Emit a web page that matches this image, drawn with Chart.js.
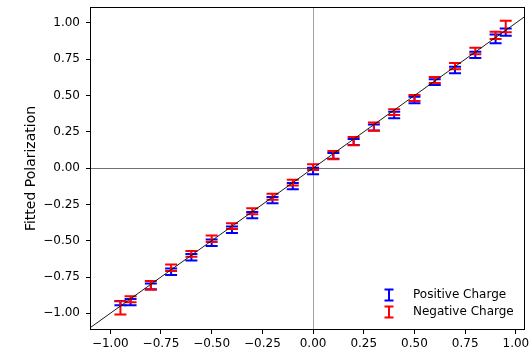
<!DOCTYPE html>
<html>
<head>
<meta charset="utf-8">
<script src="https://cdn.jsdelivr.net/npm/chart.js@4/dist/chart.umd.min.js"></script>
<style>
  body { margin: 0; background: #fff; }
  canvas { display: block; }
</style>
</head>
<body>
<canvas id="polChart" width="529" height="353"></canvas>
<script>
// True polarization values
const trueP = [-0.95, -0.9, -0.8, -0.7, -0.6, -0.5, -0.4, -0.3, -0.2, -0.1, 0, 0.1, 0.2, 0.3, 0.4, 0.5, 0.6, 0.7, 0.8, 0.9, 0.95];

// Fitted values and uncertainties, positive charge
const posFit = [-0.93, -0.923, -0.815, -0.714, -0.614, -0.514, -0.424, -0.324, -0.22, -0.124, -0.02, 0.085, 0.18, 0.28, 0.366, 0.469, 0.593, 0.676, 0.78, 0.89, 0.937];
const posErr = [0.015, 0.022, 0.02, 0.022, 0.022, 0.022, 0.022, 0.022, 0.022, 0.022, 0.022, 0.02, 0.02, 0.02, 0.022, 0.022, 0.02, 0.022, 0.022, 0.03, 0.025];

// Fitted values and uncertainties, negative charge
const negFit = [-0.963, -0.903, -0.807, -0.686, -0.59, -0.486, -0.40, -0.297, -0.197, -0.1, 0.007, 0.09, 0.186, 0.286, 0.386, 0.483, 0.607, 0.703, 0.807, 0.914, 0.976];
const negErr = [0.046, 0.02, 0.03, 0.022, 0.02, 0.022, 0.02, 0.02, 0.02, 0.02, 0.02, 0.028, 0.028, 0.028, 0.02, 0.02, 0.02, 0.022, 0.022, 0.025, 0.04];

const seriesNames = ['Positive Charge', 'Negative Charge'];
const seriesColors = ['#0000ff', '#ff0000'];

const xTicks = [-1, -0.75, -0.5, -0.25, 0, 0.25, 0.5, 0.75, 1];
const yTicks = [-1, -0.75, -0.5, -0.25, 0, 0.25, 0.5, 0.75, 1];
const xRange = [-1.1, 1.045];
const yRange = [-1.115, 1.11];
const diagX = [-1.1, 1.1];

const FONT = "'DejaVu Sans', sans-serif";
const CAP = 6;

function fmt(v) {
  return v.toFixed(2).replace('-', '\u2212');
}

function errPoints(fit, err) {
  return trueP.map((x, i) => ({ x: x, y: fit[i], lo: fit[i] - err[i], hi: fit[i] + err[i] }));
}

// draws one error bar (vertical stroke + caps) in pixel space
function drawBar(ctx, px, pLo, pHi, cap) {
  ctx.beginPath();
  ctx.moveTo(px, pLo); ctx.lineTo(px, pHi);
  ctx.moveTo(px - cap, pLo); ctx.lineTo(px + cap, pLo);
  ctx.moveTo(px - cap, pHi); ctx.lineTo(px + cap, pHi);
  ctx.stroke();
}

const errorBarPlugin = {
  id: 'errorBars',
  beforeDatasetsDraw(chart) {
    const { ctx, chartArea: a, scales: { x, y } } = chart;
    ctx.save();
    ctx.beginPath();
    ctx.rect(a.left, a.top, a.right - a.left, a.bottom - a.top);
    ctx.clip();

    // zero reference lines
    ctx.lineWidth = 1;
    ctx.strokeStyle = '#a0a0a0';
    const x0 = Math.round(x.getPixelForValue(0)) + 0.5;
    ctx.beginPath(); ctx.moveTo(x0, a.top); ctx.lineTo(x0, a.bottom); ctx.stroke();
    ctx.strokeStyle = '#707070';
    const y0 = Math.round(y.getPixelForValue(0)) + 0.5;
    ctx.beginPath(); ctx.moveTo(a.left, y0); ctx.lineTo(a.right, y0); ctx.stroke();

    // error bars
    ctx.lineWidth = 2;
    chart.data.datasets.forEach(ds => {
      if (!ds.errorBars) return;
      ctx.strokeStyle = ds.borderColor;
      ds.data.forEach(p => {
        drawBar(ctx, x.getPixelForValue(p.x), y.getPixelForValue(p.lo), y.getPixelForValue(p.hi), CAP);
      });
    });
    ctx.restore();
  },
  afterDraw(chart) {
    const { ctx, chartArea: a } = chart;
    ctx.save();
    // axes frame
    ctx.strokeStyle = '#000';
    ctx.lineWidth = 1;
    ctx.strokeRect(a.left + 0.5, a.top + 0.5, a.right - a.left - 1, a.bottom - a.top - 1);

    // legend, lower right
    ctx.font = '12px ' + FONT;
    ctx.textBaseline = 'middle';
    ctx.textAlign = 'left';
    ctx.lineWidth = 2;
    seriesNames.forEach((name, i) => {
      const cy = a.bottom - 35 + i * 17;
      ctx.strokeStyle = seriesColors[i];
      drawBar(ctx, 389, cy + 5.5, cy - 5.5, 4.5);
      ctx.fillStyle = '#000';
      ctx.fillText(name, 413, cy);
    });
    ctx.restore();
  }
};

const axisCommon = {
  type: 'linear',
  grid: { display: true, drawOnChartArea: false, drawTicks: true, tickLength: 4, color: '#000', lineWidth: 1 },
  border: { display: false },
  ticks: { color: '#000', font: { family: FONT, size: 12 }, callback: v => fmt(v) }
};

new Chart(document.getElementById('polChart'), {
  type: 'scatter',
  data: {
    datasets: [
      {
        label: 'y = x',
        type: 'line',
        data: diagX.map(v => ({ x: v, y: v })),
        borderColor: '#000',
        borderWidth: 0.9,
        pointRadius: 0,
        fill: false
      },
      {
        label: seriesNames[0],
        data: errPoints(posFit, posErr),
        borderColor: seriesColors[0],
        pointRadius: 0,
        errorBars: true
      },
      {
        label: seriesNames[1],
        data: errPoints(negFit, negErr),
        borderColor: seriesColors[1],
        pointRadius: 0,
        errorBars: true
      }
    ]
  },
  options: {
    responsive: false,
    animation: false,
    devicePixelRatio: 1,
    layout: { padding: { left: 0, right: 4, top: 7, bottom: 0 } },
    plugins: { legend: { display: false }, tooltip: { enabled: false } },
    scales: {
      x: Object.assign({}, axisCommon, {
        min: xRange[0], max: xRange[1],
        ticks: Object.assign({}, axisCommon.ticks, { padding: 3, maxRotation: 0 }),
        afterBuildTicks: s => { s.ticks = xTicks.map(v => ({ value: v })); },
        afterFit: s => { s.height = 23; s.paddingLeft = 0; s.paddingRight = 0; }
      }),
      y: Object.assign({}, axisCommon, {
        min: yRange[0], max: yRange[1],
        ticks: Object.assign({}, axisCommon.ticks, { padding: 6 }),
        title: { display: true, text: 'Fitted Polarization', color: '#000', font: { family: FONT, size: 14 }, padding: { top: 23 } },
        afterBuildTicks: s => { s.ticks = yTicks.map(v => ({ value: v })); },
        afterFit: s => { s.width = 90; s.paddingTop = 0; s.paddingBottom = 0; }
      })
    }
  },
  plugins: [errorBarPlugin]
});
</script>
</body>
</html>
